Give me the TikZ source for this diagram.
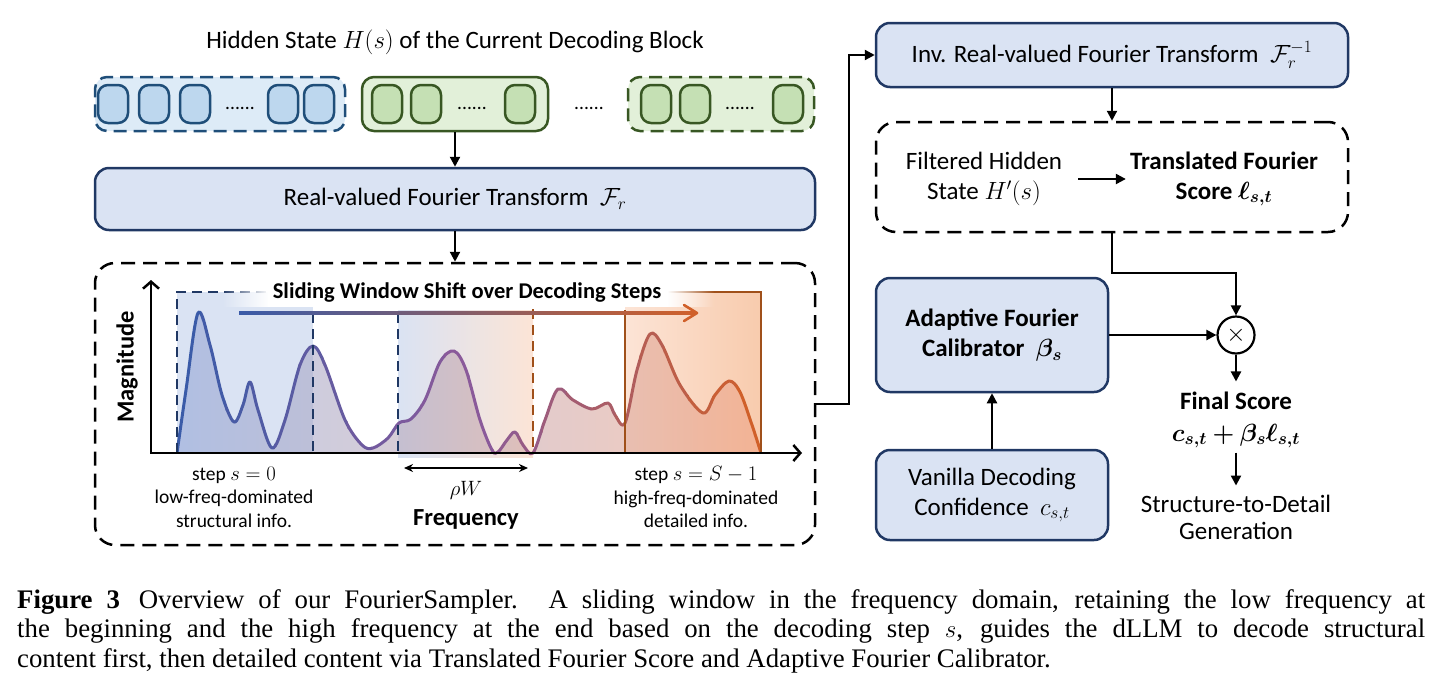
\documentclass[tikz,border=0pt]{standalone}
\usepackage{amsmath,bm}
\usepackage{fontspec}
\setmainfont{Carlito}
\newfontfamily\capfont{Liberation Serif}
\usetikzlibrary{arrows.meta,calc,fadings}
\definecolor{navy}{HTML}{203864}
\definecolor{boxblue}{HTML}{DAE3F3}
\definecolor{blkblue}{HTML}{DDEBF7}
\definecolor{tokblue}{HTML}{BDD7EE}
\definecolor{edgeblue}{HTML}{1F4E79}
\definecolor{blkgreen}{HTML}{E2F0D9}
\definecolor{tokgreen}{HTML}{C5E0B4}
\definecolor{edgegreen}{HTML}{385723}
\definecolor{winblue}{HTML}{DAE3F3}
\definecolor{winorange}{HTML}{FCE4D6}
\definecolor{winorangeB}{HTML}{F8CBAD}
\definecolor{areaB}{HTML}{8FA3D6}
\definecolor{areaM}{HTML}{C9A0C0}
\definecolor{areaO}{HTML}{F0A080}
\definecolor{curveB}{HTML}{3A5BA8}
\definecolor{curveM}{HTML}{8A5A9A}
\definecolor{curveO}{HTML}{D0602A}
\definecolor{brownO}{HTML}{A0501A}
\tikzfading[name=fadeToLeft, left color=transparent!100, right color=transparent!0]
\tikzfading[name=fadeToRight, left color=transparent!0, right color=transparent!100]
\newcommand\fsA{\fontsize{25}{30}\selectfont}
\newcommand\fsB{\fontsize{19.5}{23.5}\selectfont}
\newcommand\curvepath{plot[smooth, tension=0.55] coordinates {(177,453) (186,390) (198,313) (210,345) (222,395) (234,422) (243,405) (250,382) (258,410) (272,448) (285,420) (300,365) (313,346) (325,365) (345,420) (362,445) (373,448) (388,438) (399,423) (411,419) (425,400) (440,362) (454,351) (466,370) (480,420) (492,450) (498,452) (507,440) (515,432) (523,445) (533,453) (545,420) (558,389) (573,400) (592,409) (608,403) (615,415) (625,423) (637,370) (650,334) (662,345) (680,385) (703,413) (715,395) (729,381) (740,392) (752,425) (761,453)}}
\begin{document}
\begin{tikzpicture}[x=1pt,y=-1pt,
  arr/.style={-{Triangle[length=10pt,width=10pt]}, line width=2.2pt},
  rbox/.style={draw=navy, fill=boxblue, line width=2.5pt, rounded corners=14pt, align=center, font=\fsA},
  dashbox/.style={draw=black, line width=2.5pt, dash pattern=on 14pt off 8pt, rounded corners=20pt},
  blk/.style={line width=2.5pt, rounded corners=12pt, minimum height=54pt, inner sep=0pt},
  tokb/.style={draw=edgeblue, fill=tokblue, line width=2.5pt, rounded corners=10pt, minimum width=30pt, minimum height=38pt, inner sep=0pt},
  tokg/.style={draw=edgegreen, fill=tokgreen, line width=2.5pt, rounded corners=10pt, minimum width=30pt, minimum height=38pt, inner sep=0pt},
  dots/.style={font=\fsB, inner sep=0pt},
  lbl/.style={font=\fsB, align=center, inner sep=0pt},
  txt/.style={font=\fsA, align=center, inner sep=0pt}
]
\useasboundingbox (0,0) rectangle (1442,683);

% ---------- hidden state row ----------
\node[txt] (hs) at (455,42) {Hidden State $H(s)$ of the Current Decoding Block};
\node[blk, draw=edgeblue, fill=blkblue, dash pattern=on 13pt off 7pt, minimum width=250pt] (b1) at (220,104) {};
\node[blk, draw=edgegreen, fill=blkgreen, minimum width=186pt] (g1) at (455,104) {};
\node[blk, draw=edgegreen, fill=blkgreen, dash pattern=on 13pt off 7pt, minimum width=186pt] (g2) at (721,104) {};
\foreach \x [count=\k] in {113,154,195,283,319} \node[tokb] (tb\k) at (\x,104) {};
\node[dots] (d1) at (240,108) {......};
\foreach \x [count=\k] in {387,426,520} \node[tokg] (tg\k) at (\x,104) {};
\node[dots] (d2) at (472,108) {......};
\node[dots] (d3) at (589,108) {......};
\foreach \x [count=\k] in {656,695,788} \node[tokg] (th\k) at (\x,104) {};
\node[dots] (d4) at (740,108) {......};

% ---------- Fourier transform ----------
\node[rbox, minimum width=720pt, minimum height=62pt] (rft) at (455,199) {Real-valued Fourier Transform\ \ $\mathcal{F}_r$};
\draw[arr] (g1.south) -- (rft.north);

% ---------- chart box ----------
\node[dashbox, minimum width=720pt, minimum height=282pt] (chart) at (455,404) {};
\draw[arr] (rft.south) -- (chart.north);

% window fills
\fill[winblue] (177,292) rectangle (313,453);
\shade[left color=winblue, right color=winorange] (398,310) rectangle (533,457);
\shade[left color=winorange, right color=winorangeB] (625,292) rectangle (761,453);
% area under curve
\shade[left color=areaB, middle color=areaM, right color=areaO, fill opacity=0.55] \curvepath -- cycle;
% curve stroke with colour gradient
\foreach \i in {0,...,23}{
  \pgfmathsetmacro\xa{177+\i*24.35-0.4}
  \pgfmathsetmacro\xb{177+(\i+1)*24.35+0.4}
  \ifnum\i<12
    \pgfmathtruncatemacro\pp{100-\i*100/11}
    \colorlet{cc}{curveB!\pp!curveM}
  \else
    \pgfmathtruncatemacro\pp{100-(\i-12)*100/11}
    \colorlet{cc}{curveM!\pp!curveO}
  \fi
  \begin{scope}
    \clip (\xa,270) rectangle (\xb,470);
    \draw[cc, line width=3pt, line join=round] \curvepath;
  \end{scope}
}
% window borders
\draw[navy, line width=2.4pt, dash pattern=on 10pt off 6pt] (177,453) -- (177,292) -- (268,292);
\draw[navy, line width=2.4pt, dash pattern=on 10pt off 6pt] (313,313) -- (313,453);
\draw[navy, line width=2.4pt, dash pattern=on 10pt off 6pt] (398,313) -- (398,453);
\draw[brownO, line width=2.4pt, dash pattern=on 10pt off 6pt] (533,309) -- (533,453);
\draw[brownO, line width=2.4pt] (625,310) -- (625,453);
\draw[brownO, line width=2.4pt] (666,292) -- (761,292) -- (761,453);
% title band (white, faded at both ends)
\fill[white] (268,278) rectangle (668,307);
\fill[white, path fading=fadeToLeft] (222,278) rectangle (268.5,307);
\fill[white, path fading=fadeToRight] (667.5,278) rectangle (714,307);
\node[font=\fontsize{22.5}{26}\selectfont\bfseries, inner sep=0pt] (swt) at (467,293) {Sliding Window Shift over Decoding Steps};
% shift arrow
\shade[left color=curveB, right color=curveO] (239,311.6) rectangle (695,314.4);
\draw[curveO, line width=2.6pt, line cap=round, line join=round] (684,305) -- (697,313) -- (684,321);
% axes
\draw[line width=2.5pt, {Straight Barb[length=7pt,width=16pt,line width=2.5pt]}-{Straight Barb[length=7pt,width=16pt,line width=2.5pt]}] (151,280) -- (151,453) -- (802,453);
\node[rotate=90, font=\fontsize{24.5}{28}\selectfont\bfseries, inner sep=0pt] (mag) at (127,367) {Magnitude};
% rho W
\draw[{Stealth[length=9pt,width=8pt]}-{Stealth[length=9pt,width=8pt]}, line width=1.7pt] (404,468) -- (528,468);
\node[lbl] (rw) at (466,490) {$\rho W$};
\node[lbl] (s0) at (234,497) {step $s=0$\\low-freq-dominated\\structural info.};
\node[lbl] (sS) at (696,497) {step $s=S-1$\\high-freq-dominated\\detailed info.};
\node[font=\fontsize{24.5}{28}\selectfont\bfseries, inner sep=0pt] (freq) at (466,519) {Frequency};

% ---------- right column ----------
\node[rbox, minimum width=472pt, minimum height=64pt] (inv) at (1112,55) {Inv. Real-valued Fourier Transform\ \ $\mathcal{F}_r^{-1}$};
\draw[arr] (chart.east) -- ++(33,0) |- (inv.west);
\node[dashbox, minimum width=472pt, minimum height=110pt] (tfs) at (1112,177) {};
\draw[arr] (inv.south) -- (tfs.north);
\node[txt] (fh) at (984,179) {Filtered Hidden\\State $H'(s)$};
\node[txt, font=\fsA\bfseries] (ts) at (1224,179) {Translated Fourier\\Score $\bm{\ell_{s,t}}$};
\draw[arr, shorten <=16pt, shorten >=4pt] (fh.east) -- (fh.east -| ts.west);

\node[rbox, minimum width=232pt, minimum height=114pt, font=\fsA\bfseries] (afc) at (992,335) {Adaptive Fourier\\Calibrator\ \ $\bm{\beta_s}$};
\node[rbox, minimum width=232pt, minimum height=90pt] (vdc) at (992,495) {Vanilla Decoding\\Confidence\ \ $c_{s,t}$};
\draw[arr] (vdc.north) -- (afc.south);

\node[circle, draw, line width=2.2pt, minimum size=37pt, inner sep=0pt, font=\fsA] (mul) at (1236,335) {$\times$};
\draw[arr] (tfs.south) -- ++(0,40) -| (mul.north);
\draw[arr] (afc.east) -- (mul.west);

\node[txt, font=\fontsize{25}{32}\selectfont\bfseries] (fs) at (1236,420) {Final Score\\$\bm{c_{s,t}+\beta_s\ell_{s,t}}$};
\draw[arr, shorten >=10pt] (mul.south) -- (fs.north);
\node[txt, font=\fontsize{25}{27}\selectfont] (sdg) at (1236,517) {Structure-to-Detail\\Generation};
\draw[arr, shorten <=4pt, shorten >=9pt] (fs.south) -- (sdg.north);

% ---------- caption ----------
\node[anchor=north west, text width=1408pt, align=justify, inner sep=0pt, font=\capfont\fontsize{26.8}{29.5}\selectfont] (cap) at (17,589) {\textbf{Figure 3}\hspace{0.7em}Overview of our FourierSampler. A sliding window in the frequency domain, retaining the low frequency at\linebreak the beginning and the high frequency at the end based on the decoding step $s$, guides the dLLM to decode structural\linebreak content first, then detailed content via Translated Fourier Score and Adaptive Fourier Calibrator.};
\end{tikzpicture}
\end{document}
